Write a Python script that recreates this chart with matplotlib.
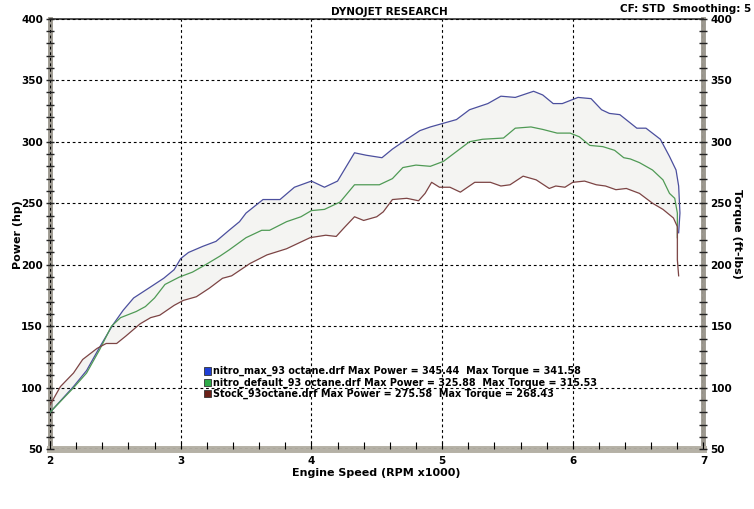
import matplotlib
matplotlib.use("Agg")
import matplotlib.pyplot as plt
from matplotlib.patches import Patch
from matplotlib.ticker import MultipleLocator
import numpy as np

# nitro_max_93 octane (blue)
rpm_max = [2.00, 2.18, 2.28, 2.38, 2.48, 2.56, 2.64, 2.77, 2.87, 2.95, 3.00, 3.06, 3.17, 3.27,
           3.37, 3.45, 3.50, 3.63, 3.76, 3.87, 4.00, 4.10, 4.20, 4.33, 4.42, 4.54, 4.62, 4.73,
           4.83, 4.91, 5.01, 5.11, 5.21, 5.35, 5.45, 5.56, 5.70, 5.77, 5.85, 5.92, 6.04, 6.14,
           6.22, 6.28, 6.36, 6.49, 6.56, 6.67, 6.74, 6.79, 6.81, 6.82, 6.81]
hp_max = [80, 101, 114, 133, 151, 163, 173, 182, 189, 196, 205, 210, 215, 219,
          228, 235, 242, 253, 253, 263, 268, 263, 268, 291, 289, 287, 294, 302,
          309, 312, 315, 318, 326, 331, 337, 336, 341, 338, 331, 331, 336, 335,
          326, 323, 322, 311, 311, 302, 288, 277, 264, 242, 226]

# nitro_default_93 octane (green)
rpm_def = [2.00, 2.18, 2.28, 2.38, 2.47, 2.54, 2.66, 2.73, 2.80, 2.88, 2.99, 3.09, 3.19, 3.30,
           3.37, 3.50, 3.62, 3.68, 3.81, 3.92, 4.00, 4.10, 4.22, 4.33, 4.42, 4.52, 4.62, 4.70,
           4.80, 4.91, 5.01, 5.11, 5.21, 5.31, 5.47, 5.56, 5.68, 5.77, 5.88, 5.98, 6.05, 6.13,
           6.23, 6.32, 6.39, 6.44, 6.51, 6.61, 6.69, 6.74, 6.78, 6.80, 6.80]
hp_def = [80, 100, 112, 131, 150, 157, 162, 166, 173, 184, 190, 194, 200, 207,
          212, 222, 228, 228, 235, 239, 244, 245, 251, 265, 265, 265, 270, 279,
          281, 280, 284, 292, 300, 302, 303, 311, 312, 310, 307, 307, 304, 297,
          296, 293, 287, 286, 283, 277, 269, 258, 254, 242, 222]

# Stock_93octane (brown)
rpm_stock = [2.00, 2.08, 2.18, 2.25, 2.36, 2.43, 2.51, 2.58, 2.69, 2.77, 2.84, 2.95, 3.02, 3.12,
             3.22, 3.32, 3.39, 3.53, 3.66, 3.81, 3.99, 4.11, 4.19, 4.25, 4.33, 4.40, 4.50, 4.55,
             4.62, 4.73, 4.82, 4.87, 4.92, 4.98, 5.06, 5.14, 5.25, 5.37, 5.45, 5.52, 5.62, 5.72,
             5.82, 5.87, 5.94, 6.00, 6.09, 6.18, 6.25, 6.33, 6.41, 6.51, 6.61, 6.69, 6.77, 6.80,
             6.80, 6.80, 6.81]
hp_stock = [86, 101, 112, 123, 132, 136, 136, 142, 152, 157, 159, 167, 171, 174,
            181, 189, 191, 201, 208, 213, 222, 224, 223, 230, 239, 236, 239, 243,
            253, 254, 252, 258, 267, 263, 263, 259, 267, 267, 264, 265, 272, 269,
            262, 264, 263, 267, 268, 265, 264, 261, 262, 258, 250, 245, 238, 231,
            220, 204, 191]

legend_labels = [
    "nitro_max_93 octane.drf Max Power = 345.44  Max Torque = 341.58",
    "nitro_default_93 octane.drf Max Power = 325.88  Max Torque = 315.53",
    "Stock_93octane.drf Max Power = 275.58  Max Torque = 268.43",
]
box_colors = ["#1f3fd6", "#2faa48", "#6b2118"]
line_colors = ["#4b4f9e", "#4f9a55", "#7c4444"]

plt.rcParams['font.family'] = ['DejaVu Sans']
plt.rcParams['font.weight'] = 'bold'

fig = plt.figure(figsize=(7.54, 5.09), dpi=100)
ax = fig.add_axes([0.0663, 0.1173, 0.8667, 0.846])

# shaded band between highest and lowest run
band_x = np.concatenate([rpm_max, rpm_stock[::-1]])
band_y = np.concatenate([hp_max, hp_stock[::-1]])
ax.fill(band_x, band_y, color="#f4f4f2", zorder=1, lw=0)

ax.plot(rpm_max, hp_max, color=line_colors[0], lw=0.9, zorder=4)
ax.plot(rpm_def, hp_def, color=line_colors[1], lw=0.9, zorder=4)
ax.plot(rpm_stock, hp_stock, color=line_colors[2], lw=0.9, zorder=4)

ax.set_xlim(2, 7)
ax.set_ylim(50, 400)
ax.xaxis.set_major_locator(MultipleLocator(1))
ax.xaxis.set_minor_locator(MultipleLocator(0.2))
ax.yaxis.set_major_locator(MultipleLocator(50))
ax.yaxis.set_minor_locator(MultipleLocator(10))

ax.grid(True, which='major', color='black', linestyle=(0, (2.5, 2.5)), lw=0.8, zorder=2)
ax.set_axisbelow(False)

ax.tick_params(axis='y', which='both', direction='inout', length=6, width=1, color='#222222',
               left=True, right=True, labelleft=True, labelright=True, labelsize=7.5, pad=2)
ax.tick_params(axis='x', which='both', direction='in', length=5, width=0.8, color='black',
               labelsize=7.5, pad=5)

for side in ['left', 'right']:
    ax.spines[side].set_color('#9c988f')
    ax.spines[side].set_linewidth(3.5)
ax.spines['bottom'].set_color('#b5b1a6')
ax.spines['bottom'].set_linewidth(5)
ax.spines['top'].set_color('#333333')
ax.spines['top'].set_linewidth(1.2)

ax.set_xlabel("Engine Speed (RPM x1000)", fontsize=8, fontweight='bold', labelpad=1)
fig.text(0.024, 0.54, "Power (hp)", rotation=90, ha='center', va='center',
         fontsize=8, fontweight='bold')
fig.text(0.978, 0.54, "Torque (ft-lbs)", rotation=-90, ha='center', va='center',
         fontsize=8, fontweight='bold')

fig.text(0.517, 0.976, "DYNOJET RESEARCH", ha='center', va='center', fontsize=7.5,
         fontweight='bold')
fig.text(0.997, 0.983, "CF: STD  Smoothing: 5", ha='right', va='center', fontsize=7.5,
         fontweight='bold')

handles = [Patch(facecolor=c, edgecolor='#333333', lw=0.6) for c in box_colors]
leg = ax.legend(handles, legend_labels, loc='upper left', bbox_to_anchor=(0.235, 0.193),
                frameon=False, fontsize=6.9, handlelength=0.8, handleheight=0.8,
                handletextpad=0.15, labelspacing=0.12, borderaxespad=0, borderpad=0)
for t in leg.get_texts():
    t.set_fontweight('bold')

fig.savefig("out.png", dpi=100)
